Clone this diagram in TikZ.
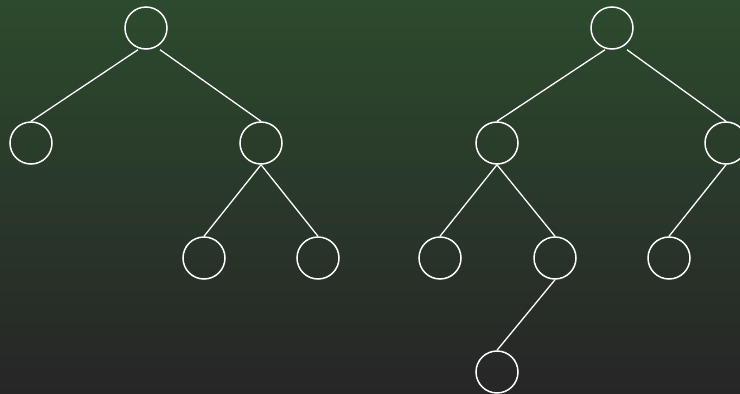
\documentclass[tikz,border=0pt]{standalone}
\usetikzlibrary{shadings}
\definecolor{topgreen}{HTML}{2C4A2D}
\definecolor{bottomgray}{HTML}{262626}
\begin{document}
\begin{tikzpicture}[x=1pt,y=-1pt,
  treenode/.style={circle,draw=white,line width=1.5pt,minimum size=42pt,inner sep=0pt},
  edge/.style={draw=white,line width=1.3pt}]
  % backdrop
  \shade[top color=topgreen,bottom color=bottomgray] (0,0) rectangle (740,394);
  \useasboundingbox (0,0) rectangle (740,394);
  % first tree
  \node[treenode] (a) at (146,28) {};
  \node[treenode] (b) at (31,143) {};
  \node[treenode] (c) at (261,143) {};
  \node[treenode] (d) at (204,258) {};
  \node[treenode] (e) at (318,258) {};
  \draw[edge] ([xshift=-8pt]a.south) -- (b.north);
  \draw[edge] ([xshift=14pt]a.south) -- (c.north);
  \draw[edge] (c.south) -- (d.north);
  \draw[edge] (c.south) -- (e.north);
  % second tree
  \node[treenode] (r) at (612,28) {};
  \node[treenode] (s) at (497,143) {};
  \node[treenode] (t) at (726,143) {};
  \node[treenode] (u) at (440,258) {};
  \node[treenode] (v) at (555,258) {};
  \node[treenode] (w) at (669,258) {};
  \node[treenode] (x) at (497,372) {};
  \draw[edge] ([xshift=-7pt]r.south) -- (s.north);
  \draw[edge] ([xshift=15pt]r.south) -- (t.north);
  \draw[edge] (s.south) -- (u.north);
  \draw[edge] (s.south) -- (v.north);
  \draw[edge] (v.south) -- (x.north);
  \draw[edge] (t.south) -- (w.north);
\end{tikzpicture}
\end{document}
